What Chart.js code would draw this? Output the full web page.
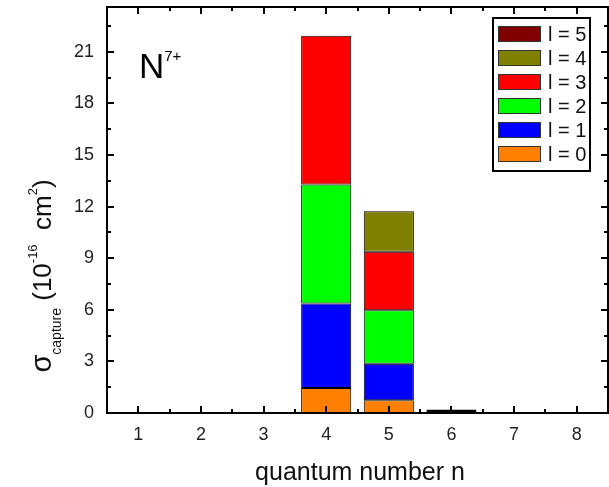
<!DOCTYPE html>
<html>
<head>
<meta charset="utf-8">
<script src="https://cdn.jsdelivr.net/npm/chart.js@4/dist/chart.umd.min.js"></script>
<style>
html,body{margin:0;padding:0;background:#fff;}
#c{display:block;}
</style>
</head>
<body>
<canvas id="c" width="609" height="487"></canvas>
<script>
// ---- data ----
const categories = ['1','2','3','4','5','6','7','8'];
const yTickValues = [0,3,6,9,12,15,18,21];
const seriesLabels = ['l = 0','l = 1','l = 2','l = 3','l = 4','l = 5'];
const l0 = [null,null,null,1.46,0.74,null,null,null];
const l1 = [null,null,null,4.90,2.12,null,null,null];
const l2 = [null,null,null,6.92,3.11,null,null,null];
const l3 = [null,null,null,8.65,3.40,null,null,null];
const l4 = [null,null,null,null,2.36,null,null,null];
const l5 = [null,null,null,null,null,0.2,null,null];
const seriesColors = ['#ff8000','#0000ff','#00ff00','#ff0000','#808000','#800000'];

const FONT = "'Liberation Sans', Arial, sans-serif";
const series = [l0,l1,l2,l3,l4,l5];

const datasets = series.map((d,i)=>({
  label: seriesLabels[i],
  data: d,
  backgroundColor: seriesColors[i],
  borderColor: '#000',
  borderWidth: i === 5 ? 2 : 1,
  borderSkipped: false,
  barPercentage: 0.8,
  categoryPercentage: 1.0
}));

const decor = {
  id: 'decor',
  afterDraw(chart) {
    const ctx = chart.ctx;
    const a = chart.chartArea;
    const xs = chart.scales.x, ys = chart.scales.y;
    ctx.save();
    ctx.strokeStyle = '#000';
    // ticks
    ctx.lineWidth = 2;
    ctx.beginPath();
    const nCat = categories.length;
    for (let i = 0; i < nCat; i++) {
      const px = Math.round(xs.getPixelForValue(i));
      ctx.moveTo(px, a.bottom); ctx.lineTo(px, a.bottom - 7);
      ctx.moveTo(px, a.top); ctx.lineTo(px, a.top + 7);
      if (i < nCat - 1) {
        const mx = Math.round((xs.getPixelForValue(i) + xs.getPixelForValue(i+1)) / 2);
        ctx.moveTo(mx, a.bottom); ctx.lineTo(mx, a.bottom - 4);
        ctx.moveTo(mx, a.top); ctx.lineTo(mx, a.top + 4);
      }
    }
    for (let v = 0; v <= 23.5; v += 1.5) {
      const py = Math.round(ys.getPixelForValue(v));
      const major = Math.abs(v % 3) < 1e-6;
      const len = major ? 7 : 4;
      ctx.moveTo(a.left, py); ctx.lineTo(a.left + len, py);
      ctx.moveTo(a.right, py); ctx.lineTo(a.right - len, py);
    }
    ctx.stroke();
    // frame
    ctx.lineWidth = 2;
    ctx.strokeRect(a.left, a.top, a.right - a.left, a.bottom - a.top);

    // legend (reverse order)
    const lx = 493, ly = 18, lw = 97, lh = 153;
    ctx.fillStyle = '#fff';
    ctx.fillRect(lx, ly, lw, lh);
    ctx.lineWidth = 2;
    ctx.strokeRect(lx, ly, lw, lh);
    ctx.font = '20px ' + FONT;
    ctx.textBaseline = 'middle';
    ctx.textAlign = 'left';
    const ds = chart.data.datasets;
    for (let k = 0; k < ds.length; k++) {
      const d = ds[ds.length - 1 - k];
      const cy = ly + 16 + k * 24;
      ctx.fillStyle = d.backgroundColor;
      ctx.fillRect(498, cy - 8, 43, 16);
      ctx.lineWidth = 1;
      ctx.strokeStyle = '#333';
      ctx.strokeRect(498.5, cy - 7.5, 42, 15);
      ctx.fillStyle = '#111';
      ctx.fillText(d.label, 548, cy + 1);
    }

    // N7+ label
    ctx.fillStyle = '#000';
    ctx.textBaseline = 'alphabetic';
    ctx.font = '35px ' + FONT;
    ctx.fillText('N', 139, 78);
    const nw = ctx.measureText('N').width;
    ctx.font = '15px ' + FONT;
    ctx.fillText('7+', 139 + nw, 61);

    // x title
    ctx.font = '25px ' + FONT;
    ctx.textAlign = 'center';
    ctx.fillStyle = '#111';
    ctx.fillText('quantum number n', 360, 480);

    // y title (rotated)
    ctx.translate(43, 276);
    ctx.rotate(-Math.PI / 2);
    ctx.textAlign = 'left';
    const parts = [
      {t:'σ', f:'29px', dy:0},
      {t:'capture', f:'14px', dy:10},
      {t:' (10', f:'26px', dy:0},
      {t:'-16', f:'13px', dy:-14},
      {t:'  cm', f:'26px', dy:0},
      {t:'2', f:'13px', dy:-14},
      {t:')', f:'26px', dy:0}
    ];
    let total = 0;
    parts.forEach(p => { ctx.font = p.f + ' ' + FONT; p.w = ctx.measureText(p.t).width; total += p.w; });
    let x = -total / 2;
    parts.forEach(p => {
      ctx.font = p.f + ' ' + FONT;
      ctx.fillText(p.t, x, 8 + p.dy);
      x += p.w;
    });
    ctx.restore();
  }
};

new Chart(document.getElementById('c'), {
  type: 'bar',
  data: { labels: categories, datasets: datasets },
  options: {
    responsive: false,
    animation: false,
    devicePixelRatio: 1,
    layout: { padding: { top: 7, right: 1, left: 0, bottom: 0 } },
    plugins: { legend: { display: false }, tooltip: { enabled: false } },
    scales: {
      x: {
        stacked: true,
        offset: true,
        grid: { display: false, drawTicks: false },
        border: { display: false },
        ticks: { font: { family: FONT, size: 18 }, color: '#222', padding: 11, maxRotation: 0 },
        afterFit: s => { s.height = 487 - 413; s.paddingLeft = 0; s.paddingRight = 0; }
      },
      y: {
        stacked: true,
        min: 0,
        max: 23.6,
        grid: { display: false, drawTicks: false },
        border: { display: false },
        ticks: { font: { family: FONT, size: 18 }, color: '#222', padding: 13 },
        afterBuildTicks: s => { s.ticks = yTickValues.map(v => ({ value: v })); },
        afterFit: s => { s.width = 107; s.paddingTop = 0; s.paddingBottom = 0; }
      }
    }
  },
  plugins: [decor]
});
</script>
</body>
</html>
